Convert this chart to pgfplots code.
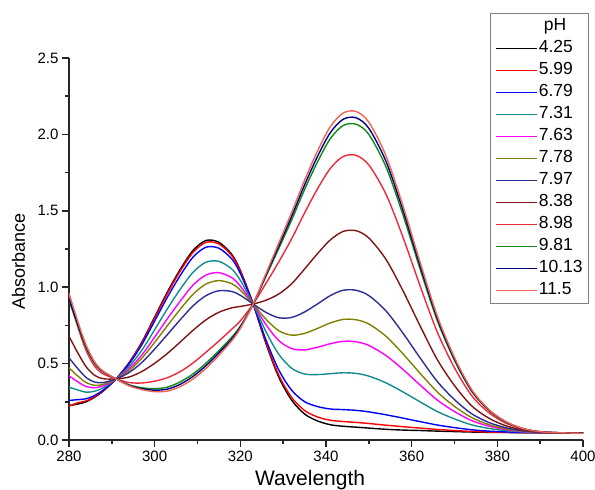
\documentclass[border=0pt]{standalone}
\usepackage{fontspec}
\setmainfont{Liberation Sans}
\usepackage{pgfplots}
\usepackage{pgfplotstable}
\pgfplotsset{compat=1.18}

\definecolor{cred}{RGB}{255,0,0}
\definecolor{cblue}{RGB}{0,0,255}
\definecolor{cteal}{RGB}{20,140,140}
\definecolor{cmag}{RGB}{255,0,255}
\definecolor{colive}{RGB}{128,128,0}
\definecolor{cind}{RGB}{45,45,150}
\definecolor{cwine}{RGB}{128,20,20}
\definecolor{cpink}{RGB}{240,40,60}
\definecolor{cgreen}{RGB}{20,135,20}
\definecolor{cnavy}{RGB}{0,0,128}
\definecolor{ccoral}{RGB}{240,100,80}

% absorbance spectra, one column per pH
\pgfplotstableread{
w   p1    p2    p3    p4    p5    p6    p7    p8    p9    p10   p11   p12
280 0.225 0.222 0.259 0.346 0.420 0.472 0.538 0.679 0.940 0.915 0.925 0.960
282 0.235 0.243 0.264 0.328 0.382 0.420 0.469 0.573 0.745 0.752 0.763 0.780
284 0.250 0.256 0.270 0.313 0.350 0.376 0.409 0.479 0.585 0.605 0.613 0.620
286 0.280 0.284 0.292 0.319 0.342 0.358 0.379 0.423 0.482 0.501 0.505 0.510
288 0.320 0.322 0.327 0.342 0.355 0.364 0.376 0.401 0.432 0.445 0.447 0.450
291 0.400 0.400 0.400 0.400 0.400 0.400 0.400 0.400 0.400 0.400 0.400 0.400
294 0.505 0.503 0.497 0.480 0.465 0.454 0.441 0.412 0.376 0.361 0.358 0.355
297 0.640 0.635 0.624 0.587 0.556 0.535 0.507 0.448 0.373 0.342 0.336 0.330
300 0.805 0.798 0.779 0.722 0.673 0.639 0.595 0.502 0.385 0.336 0.326 0.316
303 0.970 0.960 0.936 0.860 0.795 0.749 0.691 0.567 0.408 0.346 0.333 0.320
306 1.118 1.107 1.078 0.988 0.910 0.857 0.788 0.642 0.448 0.381 0.365 0.350
309 1.242 1.229 1.198 1.099 1.015 0.955 0.879 0.719 0.505 0.433 0.417 0.400
312 1.306 1.294 1.262 1.164 1.080 1.021 0.945 0.787 0.575 0.503 0.487 0.470
315 1.294 1.283 1.255 1.169 1.095 1.043 0.977 0.836 0.648 0.585 0.570 0.555
318 1.215 1.207 1.185 1.119 1.062 1.023 0.972 0.865 0.725 0.673 0.661 0.650
320 1.110 1.104 1.090 1.045 1.007 0.981 0.947 0.874 0.780 0.745 0.738 0.730
323 0.890 0.890 0.890 0.890 0.890 0.890 0.890 0.890 0.890 0.890 0.890 0.890
326 0.630 0.637 0.654 0.708 0.754 0.790 0.835 0.915 1.026 1.072 1.081 1.090
329 0.410 0.423 0.457 0.560 0.650 0.715 0.800 0.956 1.167 1.255 1.272 1.290
332 0.260 0.278 0.325 0.469 0.598 0.686 0.802 1.023 1.318 1.441 1.465 1.490
335 0.170 0.193 0.251 0.432 0.590 0.698 0.838 1.119 1.486 1.639 1.669 1.700
338 0.125 0.151 0.219 0.428 0.607 0.730 0.890 1.219 1.643 1.819 1.855 1.890
341 0.100 0.129 0.203 0.434 0.630 0.766 0.945 1.309 1.777 1.972 2.011 2.050
344 0.090 0.121 0.199 0.440 0.646 0.789 0.980 1.365 1.855 2.058 2.099 2.140
347 0.084 0.115 0.194 0.436 0.643 0.787 0.980 1.370 1.863 2.067 2.109 2.150
350 0.078 0.108 0.184 0.418 0.619 0.759 0.945 1.322 1.800 2.000 2.040 2.080
354 0.070 0.097 0.165 0.374 0.553 0.679 0.845 1.182 1.609 1.788 1.824 1.860
358 0.065 0.087 0.143 0.314 0.461 0.563 0.698 0.975 1.325 1.471 1.501 1.530
362 0.062 0.078 0.120 0.249 0.359 0.435 0.536 0.745 1.006 1.116 1.138 1.160
366 0.058 0.069 0.098 0.186 0.261 0.314 0.382 0.525 0.705 0.780 0.795 0.810
370 0.055 0.062 0.081 0.138 0.186 0.220 0.264 0.356 0.472 0.521 0.530 0.540
374 0.052 0.056 0.067 0.099 0.127 0.147 0.172 0.224 0.291 0.319 0.324 0.330
378 0.050 0.052 0.058 0.076 0.091 0.101 0.115 0.143 0.179 0.194 0.197 0.200
382 0.049 0.050 0.053 0.061 0.068 0.073 0.080 0.093 0.110 0.117 0.119 0.120
386 0.048 0.048 0.049 0.053 0.055 0.057 0.060 0.065 0.071 0.074 0.074 0.075
390 0.047 0.047 0.047 0.048 0.049 0.049 0.050 0.051 0.053 0.054 0.054 0.054
395 0.046 0.046 0.046 0.046 0.046 0.046 0.046 0.047 0.047 0.047 0.047 0.047
400 0.045 0.045 0.045 0.045 0.045 0.045 0.045 0.045 0.045 0.045 0.045 0.044
}\spectra

\begin{document}
\begin{tikzpicture}
\path[use as bounding box] (-69pt,-50pt) rectangle (526pt,440pt);
\begin{axis}[
    scale only axis,
    width=514pt, height=382pt,
    xmin=280, xmax=400, ymin=0, ymax=2.5,
    axis x line*=bottom, axis y line*=left,
    axis line style={-, line width=2pt, black!85},
    xtick={280,300,320,340,360,380,400},
    ytick={0,0.5,1,1.5,2,2.5},
    minor x tick num=1, minor y tick num=1,
    tick align=outside,
    major tick length=7pt, minor tick length=4pt,
    every tick/.style={line width=1.6pt, black!85},
    /pgf/number format/assume math mode=true,
    tick label style={font=\fontsize{15}{18}\selectfont},
    yticklabel style={/pgf/number format/.cd, fixed, fixed zerofill, precision=1},
    xticklabel style={/pgf/number format/.cd, 1000 sep={}},
    xlabel={Wavelength},
    ylabel={Absorbance},
    xlabel style={font=\fontsize{21}{24}\selectfont, at={(axis description cs:0.469,-0.1204)}, anchor=base},
    ylabel style={font=\fontsize{18}{21}\selectfont, at={(axis description cs:-0.0856,0.467)}, anchor=base},
    legend style={at={(axis description cs:1.0117,1.1178)}, anchor=north east,
        draw=gray, line width=0.8pt, font=\fontsize{17.5}{20}\selectfont,
        cells={anchor=west}, row sep=4pt, inner xsep=5pt, inner ysep=4pt,
        nodes={inner sep=1pt, text height=12.5pt, text depth=3.5pt}},
    legend image code/.code={\draw[#1, line width=1.5pt] (0pt,0pt) -- (41pt,0pt);},
    every axis plot/.append style={line width=1.4pt, smooth},
]
\addlegendimage{empty legend}
\addlegendentry{\hspace*{5pt}pH}
\addplot[black]  table[x=w,y=p1]{\spectra};  \addlegendentry{4.25}
\addplot[cred]   table[x=w,y=p2]{\spectra};  \addlegendentry{5.99}
\addplot[cblue]  table[x=w,y=p3]{\spectra};  \addlegendentry{6.79}
\addplot[cteal]  table[x=w,y=p4]{\spectra};  \addlegendentry{7.31}
\addplot[cmag]   table[x=w,y=p5]{\spectra};  \addlegendentry{7.63}
\addplot[colive] table[x=w,y=p6]{\spectra};  \addlegendentry{7.78}
\addplot[cind]   table[x=w,y=p7]{\spectra};  \addlegendentry{7.97}
\addplot[cwine]  table[x=w,y=p8]{\spectra};  \addlegendentry{8.38}
\addplot[cpink]  table[x=w,y=p9]{\spectra};  \addlegendentry{8.98}
\addplot[cgreen] table[x=w,y=p10]{\spectra}; \addlegendentry{9.81}
\addplot[cnavy]  table[x=w,y=p11]{\spectra}; \addlegendentry{10.13}
\addplot[ccoral] table[x=w,y=p12]{\spectra}; \addlegendentry{11.5}
\end{axis}
\end{tikzpicture}
\end{document}
